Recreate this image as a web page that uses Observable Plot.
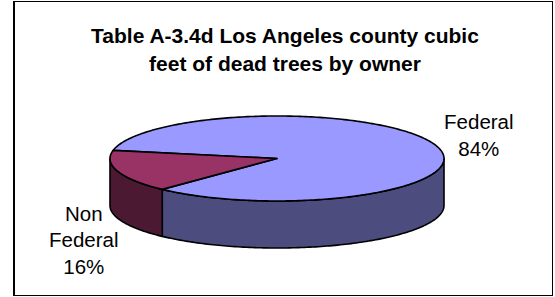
<!DOCTYPE html>
<html><head><meta charset="utf-8">
<script src="https://cdn.jsdelivr.net/npm/d3@7"></script>
<script src="https://cdn.jsdelivr.net/npm/@observablehq/plot@0.6"></script>
<style>
body{margin:0;background:#fff;}
#wrap{position:relative;width:555px;height:297px;overflow:hidden;font-family:"Liberation Sans",Arial,sans-serif;background:#fff;}
#chart{position:absolute;left:0;top:0;}
#frame{position:absolute;left:13px;top:1px;width:540px;height:295px;box-sizing:border-box;border:1px solid #000;border-left-width:2px;pointer-events:none;}
#title{position:absolute;left:0;width:570px;top:22px;text-align:center;font-weight:bold;font-size:21px;line-height:28px;color:#000;}
</style>
</head><body>
<div id="wrap">
  <div id="chart"></div>
  <div id="title">Table A-3.4d Los Angeles county cubic<br>feet of dead trees by owner</div>
  <div id="frame"></div>
</div>
<script>
const owners = ["Federal", "Non Federal"];
const shares = [84, 16];
const labels = ["Federal\n84%", "Non\nFederal\n16%"];
const topColors = ["#9999FF", "#993366"];
const sideColors = ["#4C4C7F", "#4C1933"];
const firstSliceAngle = 281; // degrees, clockwise from 12 o'clock

const DEPTH = 1.106; // pie thickness in y units
const deg = Math.PI / 180;
const arcs = d3.pie().sort(null)
  .startAngle(firstSliceAngle * deg)
  .endAngle(firstSliceAngle * deg + 2 * Math.PI)(shares);

const tops = [], sides = [];
arcs.forEach((a, i) => {
  const t0 = a.startAngle - Math.PI / 2, t1 = a.endAngle - Math.PI / 2;
  const n = Math.max(2, Math.ceil((t1 - t0) / deg));
  tops.push({x: 0, y: 0, id: "top" + i, fill: topColors[i]});
  for (let k = 0; k <= n; k++) {
    const t = t0 + (t1 - t0) * k / n;
    tops.push({x: Math.cos(t), y: Math.sin(t), id: "top" + i, fill: topColors[i]});
  }
  for (let m = -1; m <= 2; m++) {
    const lo = Math.max(t0, m * 2 * Math.PI), hi = Math.min(t1, m * 2 * Math.PI + Math.PI);
    if (hi > lo) {
      const id = "side" + i + "_" + m;
      const nn = Math.max(2, Math.ceil((hi - lo) / deg));
      const up = [];
      for (let k = 0; k <= nn; k++) {
        const t = lo + (hi - lo) * k / nn;
        up.push({x: Math.cos(t), y: Math.sin(t), id, fill: sideColors[i]});
      }
      const down = up.slice().reverse().map(p => ({...p, y: p.y + DEPTH}));
      sides.push(...up, ...down);
    }
  }
});

const labelData = arcs.map((a, i) => {
  const mid = (a.startAngle + a.endAngle) / 2 - Math.PI / 2;
  return {x: Math.cos(mid), y: Math.sin(mid), label: labels[i], owner: owners[i]};
});

const textStyle = {x: "x", y: "y", text: "label", fontSize: 20.5, lineHeight: 1.3, fill: "#000", textAnchor: "middle"};

const chart = Plot.plot({
  width: 555,
  height: 297,
  margin: 0,
  style: {background: "none", fontFamily: "'Liberation Sans', Arial, sans-serif"},
  x: {domain: [-1, 1], range: [109.5, 443.5], axis: null},
  y: {domain: [-1, 1], range: [115.5, 200.5], axis: null},
  color: {type: "identity"},
  marks: [
    Plot.line(sides, {x: "x", y: "y", z: "id", fill: "fill", stroke: "#000", strokeWidth: 1.6, curve: "linear-closed", strokeLinejoin: "round"}),
    Plot.line(tops, {x: "x", y: "y", z: "id", fill: "fill", stroke: "#000", strokeWidth: 1.6, curve: "linear-closed", strokeLinejoin: "round"}),
    Plot.text(labelData.filter(d => d.owner === "Federal"), {...textStyle, dx: 42.8, dy: -11.5}),
    Plot.text(labelData.filter(d => d.owner === "Non Federal"), {...textStyle, dx: -34.2, dy: 67.4})
  ]
});
document.getElementById("chart").appendChild(chart);
</script>
</body></html>
